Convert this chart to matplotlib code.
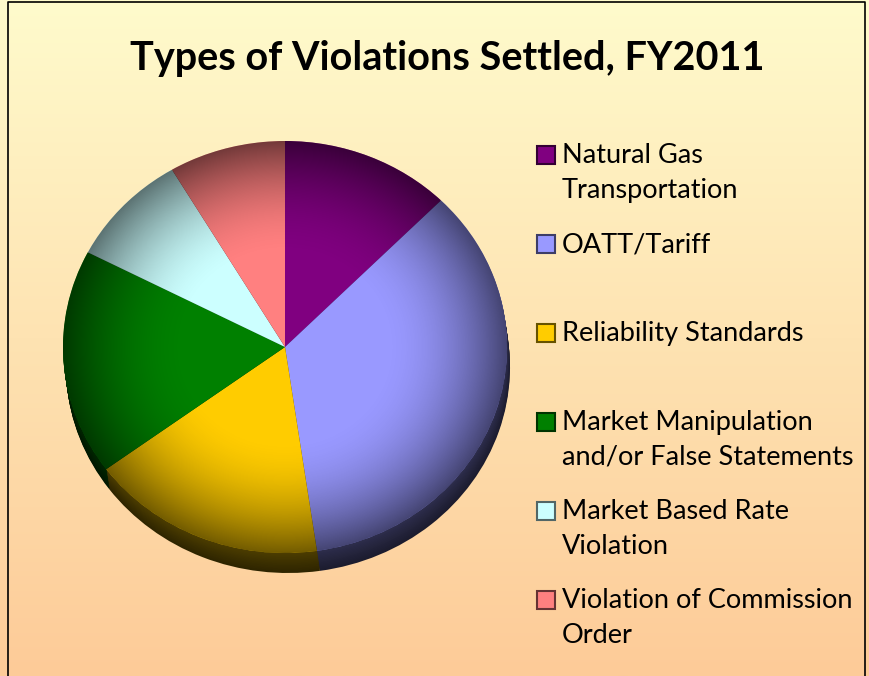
import numpy as np
import matplotlib.pyplot as plt
from matplotlib.colors import to_rgb
from matplotlib.patches import Circle, Rectangle

title = "Types of Violations Settled, FY2011"
labels = ["Natural Gas\nTransportation", "OATT/Tariff", "Reliability Standards",
          "Market Manipulation\nand/or False Statements",
          "Market Based Rate\nViolation", "Violation of Commission\nOrder"]
shares = [12.4, 35.3, 17.2, 17.7, 8.9, 8.5]
colors = ["#800080", "#9999FF", "#FFCC00", "#008000", "#CCFFFF", "#FF8080"]

W, H = 870, 676
fig = plt.figure(figsize=(W / 100, H / 100), dpi=100)

# background gradient (light yellow -> peach) over the whole figure
bg = fig.add_axes([0, 0, 1, 1])
top = np.array(to_rgb("#FFFBCC"))
bot = np.array(to_rgb("#FDCB98"))
t = np.linspace(0, 1, 256)[:, None]
grad = top * (1 - t) + bot * t
bg.imshow(grad[:, None, :], aspect='auto', extent=[0, 1, 0, 1], origin='upper')
bg.set_xlim(0, 1)
bg.set_ylim(0, 1)
bg.set_axis_off()
# slide border
bg.plot([8 / W, 8 / W, 865 / W, 865 / W], [0, 1 - 2 / H, 1 - 2 / H, 0],
        color='black', lw=1.2)

fig.text(447 / W, 1 - 70 / H, title, ha='center', va='baseline',
         fontsize=28.5, fontweight='bold', family='Lato')

# pie, slightly squashed and with a dark extruded side
cx, cy, rx, ry = 285, 347, 222, 206
lim = 1.25
ax = fig.add_axes([(cx - lim * rx) / W, (H - cy - lim * ry) / H,
                   2 * lim * rx / W, 2 * lim * ry / H])
ax.patch.set_visible(False)

depth = 20 / ry
shift = 3 / rx
n = 16
for k in range(n, 0, -1):
    f = k / n
    side = [tuple(np.array(to_rgb(c)) * (0.18 + 0.12 * (1 - f))) for c in colors]
    ax.pie(shares, colors=side, startangle=90, counterclock=False,
           center=(shift * f, -depth * f), wedgeprops=dict(linewidth=0))
wedges, _ = ax.pie(shares, colors=colors, startangle=90, counterclock=False,
                   wedgeprops=dict(linewidth=0))

# rim shading on the top face
xx, yy = np.meshgrid(np.linspace(-1, 1, 400), np.linspace(-1, 1, 400))
r = np.hypot(xx, yy)
shade = np.zeros((400, 400, 4))
shade[..., 3] = 0.55 * np.clip((r - 0.45) / 0.55, 0, 1) ** 1.8
im = ax.imshow(shade, extent=[-1, 1, -1, 1], zorder=3)
im.set_clip_path(Circle((0, 0), 1, transform=ax.transData))

ax.set_aspect('auto')
ax.set_xlim(-lim, lim)
ax.set_ylim(-lim, lim)
ax.set_axis_off()

# legend drawn by hand: evenly spaced entries with wrapped labels
y0, step, line_h = 155, 89, 35
for i, (lab, c) in enumerate(zip(labels, colors)):
    yc = y0 + i * step
    bg.add_patch(Rectangle((537 / W, 1 - (yc + 9) / H), 18 / W, 18 / H,
                           facecolor=c, edgecolor=tuple(np.array(to_rgb(c)) * 0.4),
                           lw=1.5))
    for j, line in enumerate(lab.split("\n")):
        bg.text(562 / W, 1 - (yc + 8 + j * line_h) / H, line, ha='left',
                va='baseline', fontsize=19.5, family='Lato')

plt.savefig('out.png', dpi=100)
